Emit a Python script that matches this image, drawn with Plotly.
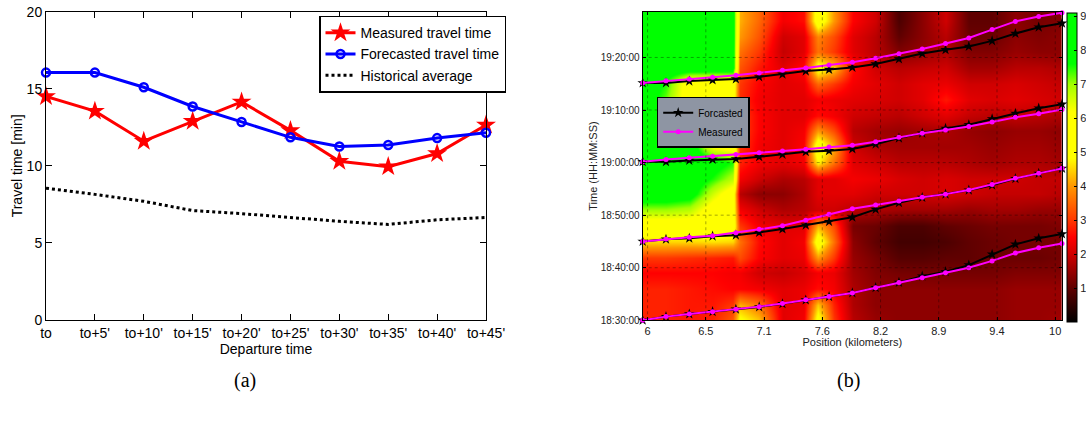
import plotly.graph_objects as go

# ---------------- (a) travel time chart data ----------------
departure_labels = ["to", "to+5'", "to+10'", "to+15'", "to+20'", "to+25'",
                    "to+30'", "to+35'", "to+40'", "to+45'"]
measured_tt = [14.5, 13.55, 11.6, 12.9, 14.15, 12.3, 10.3, 9.95, 10.8, 12.65]
forecast_tt = [16.05, 16.05, 15.1, 13.85, 12.85, 11.85, 11.25, 11.35, 11.8, 12.15]
historical_tt = [8.55, 8.15, 7.7, 7.1, 6.9, 6.65, 6.4, 6.2, 6.5, 6.65]
tt_ticks = [0, 5, 10, 15, 20]

# ---------------- (b) space-time chart data ----------------
pos_tick_idx = [0.21, 2.71, 5.21, 7.71, 10.21, 12.71, 15.21, 17.71]
pos_tick_labels = ["6", "6.5", "7.1", "7.6", "8.2", "8.9", "9.4", "10"]
time_tick_min = [0, 10, 20, 30, 40, 50]
time_tick_labels = ["18:30:00", "18:40:00", "18:50:00", "19:00:00", "19:10:00", "19:20:00"]
segment_idx = list(range(19))

meas_trip1 = [0, 0.7, 1.2, 1.65, 2.1, 2.6, 3.2, 3.9, 4.55, 5.2, 6.2, 7.2, 8.1, 9.05, 10.0, 11.3, 12.8, 13.8, 14.6]
fc_trip1 = [0, 0.7, 1.2, 1.65, 2.1, 2.55, 3.15, 3.85, 4.5, 5.2, 6.2, 7.2, 8.4, 9.25, 10.5, 12.55, 14.45, 15.6, 16.4]
meas_trip2 = [15.0, 15.45, 15.8, 16.1, 16.65, 17.3, 18.0, 19.05, 20.15, 21.2, 21.95, 22.7, 23.4, 24.0, 24.8, 25.85, 27.0, 27.95, 28.9]
fc_trip2 = [15.0, 15.4, 15.6, 16.0, 16.2, 16.7, 17.35, 18.1, 18.75, 19.6, 21.1, 22.35, 23.35, 24.0, 24.75, 25.7, 26.95, 27.95, 28.9]
meas_trip3 = [30.15, 30.6, 30.9, 31.2, 31.55, 31.85, 32.2, 32.55, 32.95, 33.3, 33.95, 34.8, 35.6, 36.2, 36.85, 37.7, 38.6, 39.3, 40.1]
fc_trip3 = [30.15, 30.15, 30.4, 30.6, 30.7, 31.1, 31.55, 32.05, 32.25, 32.6, 33.5, 34.65, 35.6, 36.5, 37.2, 38.3, 39.35, 40.35, 41.1]
meas_trip4 = [45.15, 45.55, 45.9, 46.25, 46.6, 47.05, 47.55, 48.0, 48.55, 49.1, 49.85, 50.7, 51.6, 52.65, 53.7, 55.3, 56.85, 57.8, 58.5]
fc_trip4 = [45.15, 45.15, 45.5, 45.7, 45.9, 46.3, 46.8, 47.4, 47.7, 48.1, 48.75, 49.7, 50.75, 51.45, 52.1, 53.15, 54.55, 55.75, 56.5]

# speed heatmap (km/h): column centres (segment index units), row times (min after 18:30)
heat_x = [0, 1, 2, 3, 3.85, 4.15, 5, 6, 6.9, 7.5, 8.2, 9, 10, 11, 12, 13, 14, 15, 16, 17, 18]
heat_t = [0, 3, 6, 9, 12, 15, 18, 21, 24, 27, 30, 33, 36, 39, 42, 45, 48, 51, 54, 57, 59]
speed = [
    [28, 28, 27, 28, 34, 50, 44, 22, 24, 52, 30, 18, 15, 14, 14, 14, 14, 14, 15, 15, 16],
    [28, 28, 27, 27, 30, 42, 36, 22, 23, 44, 28, 17, 14, 14, 14, 14, 14, 14, 15, 15, 15],
    [28, 28, 27, 26, 25, 25, 24, 22, 23, 26, 24, 17, 14, 14, 14, 14, 14, 14, 15, 15, 15],
    [25, 25, 25, 25, 24, 24, 20, 19, 21, 24, 23, 16, 13, 12, 12, 12, 12, 12, 13, 13, 13],
    [30, 30, 29, 28, 27, 32, 25, 22, 23, 40, 30, 15, 12, 9, 9, 10, 10, 11, 11, 11, 12],
    [45, 45, 45, 46, 45, 36, 26, 22, 24, 54, 36, 14, 10, 7, 7, 8, 10, 11, 12, 12, 12],
    [56, 56, 56, 56, 55, 30, 24, 22, 22, 42, 32, 12, 11, 8, 8, 10, 11, 12, 12, 12, 13],
    [70, 70, 68, 57, 55, 24, 20, 17, 18, 20, 20, 18, 17, 16, 16, 16, 15, 16, 16, 15, 15],
    [82, 82, 80, 66, 56, 18, 14, 14, 17, 22, 22, 22, 20, 20, 20, 21, 20, 19, 19, 19, 18],
    [82, 82, 82, 75, 68, 24, 20, 17, 18, 22, 22, 24, 23, 21, 20, 21, 20, 20, 20, 19, 19],
    [82, 82, 82, 80, 75, 28, 24, 22, 24, 48, 36, 22, 20, 18, 18, 18, 17, 16, 17, 17, 16],
    [82, 82, 82, 62, 58, 30, 24, 22, 25, 55, 42, 20, 17, 16, 16, 16, 16, 15, 16, 16, 15],
    [82, 82, 80, 58, 56, 31, 25, 22, 24, 40, 32, 18, 16, 15, 16, 17, 15, 14, 15, 15, 14],
    [82, 82, 72, 56, 55, 31, 25, 22, 22, 26, 24, 20, 19, 18, 20, 22, 19, 18, 19, 18, 17],
    [82, 72, 56, 55, 54, 29, 24, 22, 22, 24, 23, 22, 21, 20, 22, 27, 22, 21, 22, 21, 20],
    [82, 75, 56, 55, 55, 30, 25, 22, 23, 35, 30, 24, 22, 20, 22, 23, 20, 20, 21, 20, 19],
    [82, 82, 82, 82, 82, 33, 27, 22, 26, 52, 45, 26, 20, 18, 19, 20, 16, 16, 18, 18, 17],
    [82, 82, 82, 82, 82, 36, 30, 19, 22, 36, 30, 22, 18, 13, 15, 17, 13, 13, 15, 14, 14],
    [82, 82, 82, 82, 82, 40, 33, 20, 22, 38, 32, 22, 18, 10, 14, 18, 11, 11, 14, 13, 14],
    [82, 82, 82, 82, 82, 42, 35, 24, 26, 55, 40, 25, 20, 8, 14, 20, 10, 10, 14, 12, 13],
    [82, 82, 82, 82, 82, 42, 35, 24, 26, 55, 40, 25, 20, 8, 14, 20, 10, 10, 14, 12, 13],
]
cbar_ticks = [10, 20, 30, 40, 50, 60, 70, 80, 90]

SANS = "Liberation Sans, Arial, sans-serif"
W, H = 1086, 423

fig = go.Figure()

# ---- (a) ----
xa = list(range(len(departure_labels)))
fig.add_trace(go.Scatter(x=xa, y=measured_tt, name="Measured travel time", mode="lines+markers",
                         line=dict(color="#ff0000", width=3),
                         marker=dict(symbol="star", size=15, color="#ff0000"),
                         cliponaxis=False, xaxis="x", yaxis="y", legend="legend"))
fig.add_trace(go.Scatter(x=xa, y=forecast_tt, name="Forecasted travel time", mode="lines+markers",
                         line=dict(color="#0000ff", width=3),
                         marker=dict(symbol="circle-open", size=8, color="#0000ff", line=dict(width=2.5)),
                         cliponaxis=False, xaxis="x", yaxis="y", legend="legend"))
fig.add_trace(go.Scatter(x=xa, y=historical_tt, name="Historical average", mode="lines",
                         line=dict(color="#000000", width=3, dash="dot"),
                         cliponaxis=False, xaxis="x", yaxis="y", legend="legend"))

# ---- (b) ----
colorscale = [
    [0.0, "#000000"], [0.11, "#600000"], [0.22, "#d00000"], [0.275, "#ff0000"],
    [0.33, "#ff3800"], [0.44, "#ff9800"], [0.53, "#ffff00"], [0.68, "#ffff00"],
    [0.77, "#a0ff00"], [0.835, "#00ff00"], [1.0, "#00ff00"],
]
fig.add_trace(go.Heatmap(x=heat_x, y=heat_t, z=speed, zmin=0, zmax=91, zsmooth="best",
                         colorscale=colorscale, showscale=True, hoverinfo="skip",
                         xaxis="x2", yaxis="y2",
                         colorbar=dict(x=1067 / W, xanchor="left", thickness=10, thicknessmode="pixels",
                                       len=(322 - 13) / H, lenmode="fraction", y=1 - 167.5 / H, yanchor="middle",
                                       outlinewidth=1, outlinecolor="#000", tickvals=cbar_ticks,
                                       ticks="inside", ticklen=3, tickcolor="#000",
                                       tickfont=dict(family=SANS, size=11, color="#222"), xpad=0, ypad=0)))

fc_trips = [fc_trip1, fc_trip2, fc_trip3, fc_trip4]
meas_trips = [meas_trip1, meas_trip2, meas_trip3, meas_trip4]
for k, tr in enumerate(fc_trips):
    fig.add_trace(go.Scatter(x=segment_idx, y=tr, name="Forcasted", mode="lines+markers",
                             line=dict(color="#000000", width=2),
                             marker=dict(symbol="star", size=8, color="#000000"),
                             showlegend=(k == 0), legendgroup="fc", cliponaxis=False,
                             xaxis="x2", yaxis="y2", legend="legend2"))
for k, tr in enumerate(meas_trips):
    fig.add_trace(go.Scatter(x=segment_idx, y=tr, name="Measured", mode="lines+markers",
                             line=dict(color="#ff00ff", width=2),
                             marker=dict(symbol="circle", size=5, color="#ff00ff"),
                             showlegend=(k == 0), legendgroup="ms", cliponaxis=False,
                             xaxis="x2", yaxis="y2", legend="legend2"))

# dotted grid lines on top of heatmap (at tick positions)
shapes = []
for xv in pos_tick_idx:
    shapes.append(dict(type="line", xref="x2", yref="y2", x0=xv, x1=xv, y0=0, y1=58.7,
                       line=dict(color="rgba(0,0,0,0.35)", width=1, dash="dot"), layer="above"))
for yv in time_tick_min[1:]:
    shapes.append(dict(type="line", xref="x2", yref="y2", x0=0, x1=18, y0=yv, y1=yv,
                       line=dict(color="rgba(0,0,0,0.35)", width=1, dash="dot"), layer="above"))

axis_common = dict(showline=True, linecolor="#000", linewidth=1, mirror="ticks",
                   ticks="inside", tickcolor="#000", showgrid=False, zeroline=False, automargin=False)

fig.update_layout(
    width=W, height=H, margin=dict(l=0, r=0, t=0, b=0, autoexpand=False),
    paper_bgcolor="white", plot_bgcolor="white",
    shapes=shapes,
    xaxis=dict(domain=[46 / W, 486 / W], range=[0, 9], tickvals=xa, ticktext=departure_labels,
               ticklen=6, tickfont=dict(family=SANS, size=14, color="#000"),
               title=dict(text="Departure time", font=dict(family=SANS, size=14, color="#000"), standoff=0),
               anchor="y", **axis_common),
    yaxis=dict(domain=[1 - 320 / H, 1 - 11.7 / H], range=[0, 20], tickvals=tt_ticks,
               ticklen=6, tickfont=dict(family=SANS, size=14, color="#000"),
               title=dict(text="Travel time [min]", font=dict(family=SANS, size=14, color="#000"), standoff=0),
               anchor="x", **axis_common),
    xaxis2=dict(domain=[642.7 / W, 1062 / W], range=[0, 18], tickvals=pos_tick_idx, ticktext=pos_tick_labels,
                ticklen=3, tickfont=dict(family=SANS, size=11, color="#222"),
                title=dict(text="Position (kilometers)", font=dict(family=SANS, size=11, color="#222"), standoff=0),
                anchor="y2", layer="above traces", **axis_common),
    yaxis2=dict(domain=[1 - 320.3 / H, 1 - 11.7 / H], range=[0, 58.7], tickvals=time_tick_min,
                ticktext=time_tick_labels, ticklen=3, tickfont=dict(family=SANS, size=10, color="#222"),
                title=dict(text="Time (HH:MM:SS)", font=dict(family=SANS, size=11, color="#222"), standoff=0),
                anchor="x2", layer="above traces", **axis_common),
    legend=dict(x=319 / W, y=1 - 15.7 / H, xanchor="left", yanchor="top", bgcolor="white",
                bordercolor="#000", borderwidth=1.5, font=dict(family=SANS, size=14, color="#000"),
                tracegroupgap=0, itemwidth=30),
    legend2=dict(x=656.7 / W, y=1 - 96.7 / H, xanchor="left", yanchor="top", bgcolor="#8e95a3",
                 bordercolor="#000", borderwidth=1.5, font=dict(family=SANS, size=10, color="#000"),
                 tracegroupgap=0, itemwidth=30),
    annotations=[
        dict(text="(a)", x=245 / W, y=1 - 380 / H, xref="paper", yref="paper", showarrow=False,
             yanchor="middle", xanchor="center",
             font=dict(family="Liberation Serif, DejaVu Serif, serif", size=20, color="#000")),
        dict(text="(b)", x=848 / W, y=1 - 380 / H, xref="paper", yref="paper", showarrow=False,
             yanchor="middle", xanchor="center",
             font=dict(family="Liberation Serif, DejaVu Serif, serif", size=20, color="#000")),
    ],
)

fig.write_html("out.html", config={"displayModeBar": False},
               post_script="document.body.style.margin='0';document.body.style.overflow='hidden';")
